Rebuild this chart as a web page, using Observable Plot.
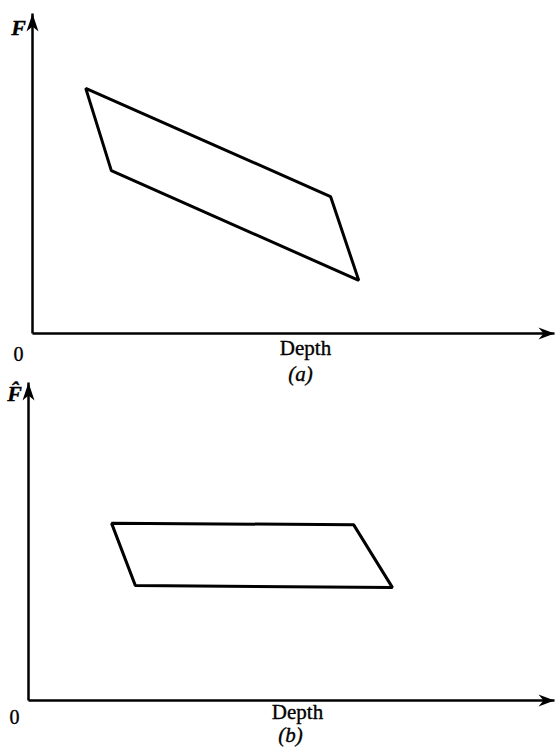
<!DOCTYPE html>
<html>
<head>
<meta charset="utf-8">
<script src="https://cdn.jsdelivr.net/npm/d3@7"></script>
<script src="https://cdn.jsdelivr.net/npm/@observablehq/plot@0.6"></script>
<style>
  html, body { margin: 0; padding: 0; background: #fff; }
  #figure { width: 555px; }
  #figure svg { display: block; overflow: visible; background: transparent; }
</style>
</head>
<body>
<div id="figure"></div>
<script>
// Axis extent (both panels share the same arbitrary units)
const axisMax = 10;

// Panel (a): F against depth, corners in drawing order
const depthA = [1.02, 5.71, 6.25, 1.51];
const fA = [7.66, 4.28, 1.66, 5.09];

// Panel (b): corrected F-hat against depth, corners in drawing order
const depthB = [1.58, 6.18, 6.92, 2.03];
const fB = [5.57, 5.53, 3.55, 3.62];

const serif = "Liberation Serif, Times New Roman, serif";

// Filled, slightly barbed arrowheads with the tip at the symbol origin
const headUp = {
  draw(ctx) {
    ctx.moveTo(0, 0);
    ctx.lineTo(6, 18);
    ctx.lineTo(0, 13);
    ctx.lineTo(-6, 18);
    ctx.closePath();
  }
};
const headRight = {
  draw(ctx) {
    ctx.moveTo(0, 0);
    ctx.lineTo(-16, -6);
    ctx.lineTo(-11, 0);
    ctx.lineTo(-16, 6);
    ctx.closePath();
  }
};

const textStyle = {fontFamily: serif, fill: "#000", stroke: "#000", strokeWidth: 0.35};

function panel({depth, f, yLabel, tag, height, margins, zeroDy, labelDy, pos}) {
  const poly = depth.map((d, i) => ({depth: d, f: f[i]}));
  const axes = [
    {x1: 0, y1: 0, x2: axisMax, y2: 0},
    {x1: 0, y1: 0, x2: 0, y2: axisMax}
  ];
  return Plot.plot({
    width: 555,
    height,
    ...margins,
    style: {background: "transparent", overflow: "visible"},
    x: {domain: [0, axisMax], axis: null},
    y: {domain: [0, axisMax], axis: null},
    marks: [
      Plot.link(axes, {x1: "x1", y1: "y1", x2: "x2", y2: "y2", stroke: "#000", strokeWidth: 2.5}),
      Plot.dot([{x: 0, y: axisMax}], {x: "x", y: "y", symbol: headUp, fill: "#000", stroke: "none"}),
      Plot.dot([{x: axisMax, y: 0}], {x: "x", y: "y", symbol: headRight, fill: "#000", stroke: "none"}),
      Plot.line(poly, {x: "depth", y: "f", curve: "linear-closed", stroke: "#000", strokeWidth: 3, strokeLinejoin: "miter"}),
      Plot.text([yLabel], {x: () => 0, y: () => axisMax, text: d => d, dx: -14, dy: labelDy, fontSize: 22, fontStyle: "italic", fontWeight: "bold", ...textStyle}),
      Plot.text(["0"], {x: () => 0, y: () => 0, text: d => d, dx: -14, dy: zeroDy, fontSize: 20, ...textStyle}),
      Plot.text(["Depth"], {frameAnchor: "bottom", text: d => d, dx: pos.depthDx, dy: pos.depthDy, fontSize: 21, ...textStyle}),
      Plot.text([tag], {frameAnchor: "bottom", text: d => d, dx: pos.tagDx, dy: pos.tagDy, fontSize: 21, fontStyle: "italic", ...textStyle})
    ]
  });
}

const fig = document.getElementById("figure");

fig.appendChild(panel({
  depth: depthA, f: fA, yLabel: "F", tag: "(a)",
  height: 378,
  margins: {marginLeft: 32, marginRight: 1, marginTop: 13, marginBottom: 45},
  zeroDy: 21, labelDy: 14,
  pos: {depthDx: 12, depthDy: 21, tagDx: 7, tagDy: 47}
}));

fig.appendChild(panel({
  depth: depthB, f: fB, yLabel: "F\u0302", tag: "(b)",
  height: 373,
  margins: {marginLeft: 28, marginRight: 1, marginTop: 4, marginBottom: 51},
  zeroDy: 17, labelDy: 11,
  pos: {depthDx: 6, depthDy: 18, tagDx: -1, tagDy: 41}
}));
</script>
</body>
</html>
